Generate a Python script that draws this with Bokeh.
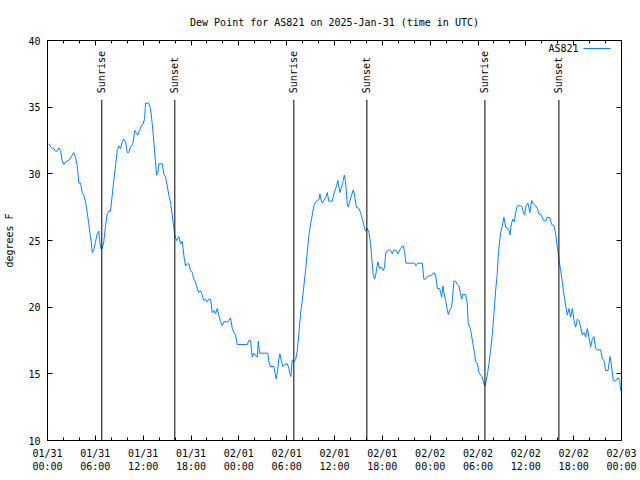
import math
from bokeh.plotting import figure
from bokeh.models import Range1d, FixedTicker, LinearAxis, Label, BoxAnnotation, ColumnDataSource
from bokeh.core.properties import value
from bokeh.embed import file_html
from bokeh.resources import INLINE

# hours since 2025-01-31 00:00 UTC
HOURS = [0.16, 0.50, 0.79, 1.00, 1.22, 1.42, 1.63, 1.84, 2.05, 2.26, 2.67, 3.10, 3.30, 3.51, 3.73, 3.93,
         4.14, 4.35, 4.55, 4.77, 4.98, 5.18, 5.31, 5.48, 5.61, 5.81, 6.02, 6.24, 6.44, 6.56, 6.69, 6.86,
         7.06, 7.28, 7.49, 7.69, 7.90, 8.12, 8.32, 8.53, 8.75, 8.95, 9.16, 9.37, 9.57, 9.79, 10.00, 10.20,
         10.41, 10.70, 10.95, 11.13, 11.33, 11.54, 11.76, 11.96, 12.17, 12.30, 12.71, 12.92, 13.14, 13.34,
         13.55, 13.68, 13.84, 13.97, 14.39, 14.59, 14.81, 15.02, 15.22, 15.43, 15.65, 15.85, 15.97, 16.19,
         16.47, 16.69, 16.90, 17.10, 17.31, 17.53, 17.73, 17.94, 18.15, 18.36, 18.57, 18.78, 18.98, 19.20,
         19.41, 19.61, 19.82, 20.04, 20.24, 20.45, 20.67, 20.87, 21.08, 21.29, 21.49, 21.71, 21.92, 22.12,
         22.55, 22.75, 22.96, 23.18, 23.38, 23.59, 23.80, 25.06, 25.26, 25.47, 25.68, 25.88, 26.10, 26.31,
         26.44, 26.60, 27.64, 27.77, 27.98, 28.39, 28.52, 28.69, 28.86, 29.02, 29.15, 29.32, 29.52, 29.77,
         30.08, 30.28, 30.40, 30.53, 30.70, 30.90, 31.12, 31.33, 31.53, 31.74, 31.96, 32.16, 32.37, 32.58,
         32.79, 33.00, 33.21, 33.41, 33.63, 33.84, 34.04, 34.17, 34.29, 34.47, 34.67, 34.88, 35.09, 35.29,
         35.72, 35.92, 36.14, 36.26, 36.42, 36.67, 36.89, 37.10, 37.23, 37.39, 37.60, 37.73, 37.93, 38.14,
         38.36, 38.52, 38.73, 39.06, 39.27, 39.49, 39.69, 39.90, 40.11, 40.31, 40.53, 40.69, 40.87, 41.03,
         41.19, 41.44, 41.66, 41.87, 42.12, 42.28, 42.41, 42.62, 42.82, 43.04, 43.25, 43.45, 43.75, 43.95,
         44.29, 44.63, 44.79, 44.96, 46.05, 46.21, 46.46, 47.01, 47.21, 47.43, 47.64, 48.18, 48.47, 48.68,
         48.90, 49.19, 49.31, 49.44, 49.60, 49.72, 49.94, 50.15, 50.28, 50.44, 50.69, 50.85, 50.98, 51.19,
         51.40, 51.61, 51.82, 51.94, 52.11, 52.45, 52.66, 52.78, 52.99, 53.16, 53.36, 53.58, 53.70, 53.91,
         54.12, 54.33, 54.54, 54.71, 54.87, 55.04, 55.21, 55.37, 55.58, 55.80, 56.00, 56.21, 56.42, 56.55,
         56.71, 56.84, 57.05, 57.25, 57.47, 57.68, 57.88, 58.01, 58.18, 58.38, 58.56, 58.72, 58.93, 59.35,
         59.56, 59.69, 59.85, 60.01, 60.26, 60.51, 60.73, 60.94, 61.23, 61.44, 61.64, 61.94, 62.20, 62.48,
         62.70, 63.02, 63.24, 63.53, 63.74, 63.95, 64.08, 64.20, 64.37, 64.53, 64.71, 64.87, 65.03, 65.21,
         65.41, 65.62, 65.83, 66.04, 66.25, 66.46, 66.66, 66.88, 67.09, 67.29, 67.50, 67.72, 67.92, 68.13,
         68.34, 68.54, 68.76, 68.97, 69.39, 69.60, 69.80, 70.01, 70.31, 70.56, 70.72, 70.97, 71.26, 71.56,
         71.77, 71.90, 71.99]

DEWPOINT = [32.25, 31.95, 31.9, 31.7, 31.7, 31.95, 31.75, 31.0, 30.7, 30.9, 31.0, 31.4, 31.6, 31.25, 30.6, 29.3,
            29.3, 28.6, 28.4, 27.9, 27.1, 26.25, 25.6, 24.9, 24.1, 24.3, 24.9, 25.5, 25.7, 24.9, 24.4, 24.4,
            24.9, 26.1, 27.0, 27.2, 27.2, 28.4, 29.5, 30.6, 31.75, 32.1, 31.9, 32.4, 32.6, 32.4, 31.6, 31.6,
            32.0, 32.25, 33.25, 33.1, 32.9, 33.25, 33.6, 33.7, 34.1, 35.3, 35.3, 34.9, 33.75, 32.4,
            30.9, 29.9, 30.1, 30.75, 30.75, 30.0, 29.75, 29.1, 28.4, 27.9, 26.9, 25.9, 25.4, 25.0,
            25.3, 24.75, 24.95, 23.9, 23.1, 23.25, 23.25, 22.75, 22.6, 22.1, 21.9, 21.4, 21.1, 21.25,
            20.9, 20.5, 20.6, 20.4, 20.6, 20.6, 19.6, 19.75, 19.5, 19.9, 19.4, 18.9, 18.6, 18.9,
            18.9, 19.0, 19.2, 18.4, 18.1, 17.9, 17.2, 17.2, 17.5, 17.5, 16.25, 16.55, 16.4, 16.25,
            17.45, 16.55, 16.55, 15.9, 15.55, 15.55, 15.1, 14.6, 15.25, 16.1, 16.5, 16.0, 15.55, 15.7,
            15.75, 15.4, 15.0, 14.8, 16.05, 15.9, 16.05, 16.75, 18.0, 19.5, 20.5, 21.6, 22.75, 24.1,
            25.4, 26.25, 26.9, 27.6, 27.9, 28.0, 28.05, 28.5, 28.1, 27.8, 28.0, 28.2, 28.6, 27.95,
            27.95, 28.5, 28.9, 29.1, 29.5, 28.6, 29.0, 29.5, 29.9, 29.4, 27.75, 27.5, 28.0, 28.4,
            28.8, 28.4, 27.5, 27.4, 27.1, 26.6, 26.1, 25.7, 25.9, 25.6, 24.75, 23.5, 22.4, 22.1,
            22.5, 23.4, 22.9, 23.0, 22.75, 23.0, 24.0, 24.25, 24.3, 24.25, 24.0, 24.3, 24.25, 24.0,
            24.4, 24.6, 24.1, 23.3, 23.3, 23.1, 23.3, 23.3, 22.1, 22.1, 22.3, 22.4, 22.6, 22.4,
            21.4, 21.4, 21.1, 20.75, 21.6, 21.1, 20.5, 19.8, 19.45, 19.75, 20.0, 21.0, 21.95, 21.95,
            21.7, 21.6, 21.0, 20.6, 20.95, 20.95, 20.25, 18.75, 18.5, 18.0, 17.25, 16.5, 15.9, 15.8,
            15.1, 14.9, 14.75, 14.3, 14.1, 14.5, 15.1, 15.75, 16.75, 18.0, 19.5, 21.25, 22.5, 24.0,
            24.9, 25.6, 26.1, 26.75, 26.0, 25.95, 25.75, 25.4, 26.25, 26.6, 26.4, 27.1, 27.6, 27.6,
            27.5, 27.1, 26.9, 27.6, 27.8, 27.1, 28.0, 27.75, 27.6, 27.4, 27.0, 26.9, 26.5, 26.45,
            26.75, 26.7, 26.2, 26.1, 25.5, 24.5, 24.0, 23.4, 22.75, 22.1, 21.25, 20.6, 20.0, 19.4,
            19.9, 19.25, 19.9, 19.0, 18.5, 19.1, 19.0, 18.5, 17.9, 18.1, 17.75, 18.4, 17.75, 17.0,
            17.6, 17.8, 16.9, 16.8, 16.8, 16.1, 16.0, 15.25, 15.25, 16.3, 15.75, 14.5, 14.45, 14.7,
            14.5, 13.75, 13.75]

SUNRISE_H = [6.81, 30.90, 54.87]
SUNSET_H = [15.97, 40.06, 64.15]

XTICKS = [0, 6, 12, 18, 24, 30, 36, 42, 48, 54, 60, 66, 72]
XTICK_LABELS = ["01/31\n00:00", "01/31\n06:00", "01/31\n12:00", "01/31\n18:00",
                "02/01\n00:00", "02/01\n06:00", "02/01\n12:00", "02/01\n18:00",
                "02/02\n00:00", "02/02\n06:00", "02/02\n12:00", "02/02\n18:00",
                "02/03\n00:00"]
XMINOR = list(range(0, 73, 2))
YTICKS = [10, 15, 20, 25, 30, 35, 40]

TITLE = "Dew Point for AS821 on 2025-Jan-31 (time in UTC)"
SERIES = "AS821"
YLABEL = "degrees F"

FONT = "DejaVu Sans Mono"
FS = "10px"
BLUE = "#0a80ff"

X0, X1 = 0, 72
Y0, Y1 = 10, 40

p = figure(width=640, height=480, output_backend="svg", toolbar_location=None,
           x_range=Range1d(X0, X1), y_range=Range1d(Y0, Y1),
           min_border_left=47, min_border_right=19, min_border_top=40, min_border_bottom=40,
           x_axis_location=None, y_axis_location=None)
p.grid.visible = False
p.outline_line_color = "black"
p.background_fill_color = "white"
p.border_fill_color = "white"

p.title.text = TITLE
p.title.align = "center"
p.title.text_font = FONT
p.title.text_font_size = FS
p.title.text_font_style = "normal"
p.title.text_color = "black"
p.title.text_line_height = 0.8
p.title.standoff = 26

xt = FixedTicker(ticks=XTICKS, minor_ticks=XMINOR)
yt = FixedTicker(ticks=YTICKS, minor_ticks=[])

def style(ax, labels=True):
    ax.axis_line_color = "black"
    ax.major_tick_in = 5
    ax.major_tick_out = 0
    ax.minor_tick_in = 3
    ax.minor_tick_out = 0
    ax.major_tick_line_color = "black"
    ax.minor_tick_line_color = "black"
    ax.major_label_text_font = FONT
    ax.major_label_text_font_size = FS if labels else "0px"
    ax.major_label_text_color = "black"
    ax.major_label_standoff = 7 if labels else 0

bottom = LinearAxis(ticker=xt)
style(bottom)
bottom.major_label_overrides = {t: l for t, l in zip(XTICKS, XTICK_LABELS)}
p.add_layout(bottom, "below")

top = LinearAxis(ticker=xt)
style(top, labels=False)
top.major_label_overrides = {t: "" for t in XTICKS}
p.add_layout(top, "above")

left = LinearAxis(ticker=yt, axis_label=YLABEL)
style(left)
left.axis_label_text_font = FONT
left.axis_label_text_font_size = FS
left.axis_label_text_font_style = "normal"
left.axis_label_text_color = "black"
left.axis_label_standoff = 10
p.add_layout(left, "left")

right = LinearAxis(ticker=yt)
style(right, labels=False)
right.major_label_overrides = {t: "" for t in YTICKS}
p.add_layout(right, "right")

# data line
src = ColumnDataSource(dict(x=HOURS, y=DEWPOINT))
p.line("x", "y", source=src, line_color=BLUE, line_width=1)

# sunrise / sunset markers
LINE_TOP = 35.55   # y where the event line begins (just below its label)
LABEL_BASE = 36.05
ev_x = SUNRISE_H + SUNSET_H
ev_t = ["Sunrise"] * len(SUNRISE_H) + ["Sunset"] * len(SUNSET_H)
ev = ColumnDataSource(dict(x=ev_x, y0=[Y0] * len(ev_x), y1=[LINE_TOP] * len(ev_x),
                           ly=[LABEL_BASE] * len(ev_x), t=ev_t))
p.segment(x0="x", y0="y0", x1="x", y1="y1", source=ev, line_color="black", line_width=1)
p.text(x="x", y="ly", text="t", source=ev, angle=math.pi / 2, text_align="left",
       text_baseline="middle", text_font=value(FONT), text_font_size=value(FS), text_color="black")

# key (label then line sample, gnuplot style); placed by pixel offsets inside the frame
FRAME_W, FRAME_H = 574, 400
KEY_TEXT_RIGHT_PX, KEY_LINE_L_PX, KEY_LINE_R_PX, KEY_Y_PX = 531, 536, 563, 8
def px_x(px):
    return X0 + (X1 - X0) * px / FRAME_W
def px_y(px):
    return Y1 - (Y1 - Y0) * px / FRAME_H

p.add_layout(Label(x=px_x(KEY_TEXT_RIGHT_PX), y=px_y(KEY_Y_PX), text=SERIES,
                   text_align="right", text_baseline="middle", text_font=FONT,
                   text_font_size=FS, text_color="black"))
p.add_layout(BoxAnnotation(left=px_x(KEY_LINE_L_PX), right=px_x(KEY_LINE_R_PX),
                           top=px_y(KEY_Y_PX - 0.5), bottom=px_y(KEY_Y_PX + 0.5),
                           fill_color=BLUE, fill_alpha=1, line_color=None))

open("out.html", "w").write(file_html(p, INLINE))
